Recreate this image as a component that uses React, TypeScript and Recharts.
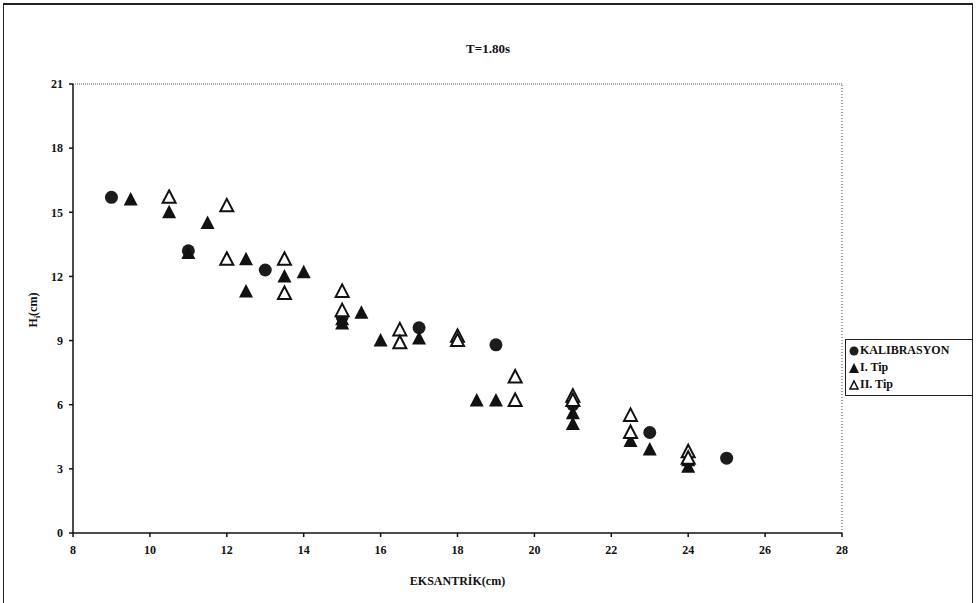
import { ScatterChart, Scatter, XAxis, YAxis, ReferenceLine } from "recharts";

// eccentricity (cm) and wave height (cm) per series
const kalX = [9, 11, 13, 15, 17, 19, 21, 23, 25];
const kalY = [15.7, 13.2, 12.3, 10.1, 9.6, 8.8, 6.0, 4.7, 3.5];

const tip1X = [9.5, 10.5, 11, 11.5, 12.5, 12.5, 13.5, 14, 15, 15, 15.5, 16, 17, 18.5, 19, 21, 21, 22.5, 23, 24, 24];
const tip1Y = [15.6, 15.0, 13.1, 14.5, 12.8, 11.3, 12.0, 12.2, 10.0, 9.8, 10.3, 9.0, 9.1, 6.2, 6.2, 5.6, 5.1, 4.3, 3.9, 3.4, 3.1];

const tip2X = [10.5, 12, 12, 13.5, 13.5, 15, 15, 16.5, 16.5, 18, 18, 19.5, 19.5, 21, 21, 22.5, 22.5, 24, 24];
const tip2Y = [15.7, 15.3, 12.8, 12.8, 11.2, 11.3, 10.4, 9.5, 8.9, 9.2, 9.0, 7.3, 6.2, 6.4, 6.2, 5.5, 4.7, 3.8, 3.5];

const xTicks = [8, 10, 12, 14, 16, 18, 20, 22, 24, 26, 28];
const yTicks = [0, 3, 6, 9, 12, 15, 18, 21];

const zip = (xs: number[], ys: number[]) => xs.map((x, i) => ({ x, y: ys[i] }));

const font = "'Liberation Serif', 'Times New Roman', serif";

const Dot = (props: any) => {
  const { cx, cy } = props;
  return <circle cx={cx} cy={cy} r={6.5} fill="#1c1c1c" />;
};

const FilledTri = (props: any) => {
  const { cx, cy } = props;
  return <path d={`M${cx},${cy - 7.5} L${cx + 7},${cy + 6} L${cx - 7},${cy + 6} Z`} fill="#111" />;
};

const OpenTri = (props: any) => {
  const { cx, cy } = props;
  return (
    <path
      d={`M${cx},${cy - 7} L${cx + 6.5},${cy + 5.5} L${cx - 6.5},${cy + 5.5} Z`}
      fill="#fff"
      stroke="#111"
      strokeWidth={2}
    />
  );
};

const YLabel = () => (
  <text
    x={0}
    y={0}
    transform="translate(37,310) rotate(-90)"
    textAnchor="middle"
    fontFamily={font}
    fontWeight="bold"
    fontSize={12}
    fill="#111"
  >
    H<tspan fontSize={8} dy={3}>i</tspan>
    <tspan dy={-3}>(cm)</tspan>
  </text>
);

const LegendBox = () => {
  const row = { display: "flex", alignItems: "center", height: 17, gap: 1 } as const;
  return (
    <div
      style={{
        position: "absolute",
        left: 845,
        top: 339,
        border: "1.5px solid #222",
        padding: "2px 3px",
        width: 120,
        fontFamily: font,
        fontWeight: "bold",
        fontSize: 12,
        color: "#111",
        background: "#fff",
      }}
    >
      <div style={row}>
        <svg width={10} height={12}>
          <circle cx={5} cy={6} r={4.5} fill="#1c1c1c" />
        </svg>
        <span>KALIBRASYON</span>
      </div>
      <div style={row}>
        <svg width={10} height={12}>
          <path d="M5,1 L10,11 L0,11 Z" fill="#111" />
        </svg>
        <span>I. Tip</span>
      </div>
      <div style={row}>
        <svg width={10} height={12}>
          <path d="M5,2 L9,10 L1,10 Z" fill="#fff" stroke="#111" strokeWidth={1.5} />
        </svg>
        <span>II. Tip</span>
      </div>
    </div>
  );
};

export default function App() {
  const tickStyle = { fontFamily: font, fontWeight: "bold" as const, fontSize: 12, fill: "#111" };
  return (
    <div style={{ position: "absolute", left: 0, top: 0, width: 976, height: 603, background: "#fff" }}>
      <div
        style={{
          position: "absolute",
          left: 3,
          top: 3,
          width: 968,
          height: 610,
          borderLeft: "1.5px solid #222",
          borderTop: "2px solid #222",
          borderRight: "1.5px solid #222",
        }}
      />
      <div
        style={{
          position: "absolute",
          left: 0,
          width: 976,
          top: 41,
          textAlign: "center",
          fontFamily: font,
          fontWeight: "bold",
          fontSize: 13,
          color: "#111",
        }}
      >
        T=1.80s
      </div>
      <ScatterChart width={976} height={603} margin={{ top: 84, right: 134, left: 13, bottom: 30 }}>
        <XAxis
          type="number"
          dataKey="x"
          domain={[8, 28]}
          ticks={xTicks}
          tick={tickStyle}
          tickSize={4}
          tickMargin={8}
          height={40}
          stroke="#111"
          strokeWidth={1.5}
          label={{
            value: "EKSANTRİK(cm)",
            position: "insideBottom",
            offset: -12,
            style: { fontFamily: font, fontWeight: "bold", fontSize: 12, fill: "#111" },
          }}
        />
        <YAxis
          type="number"
          dataKey="y"
          domain={[0, 21]}
          ticks={yTicks}
          tick={tickStyle}
          tickSize={4}
          tickMargin={6}
          width={60}
          stroke="#111"
          strokeWidth={1.5}
          label={<YLabel />}
        />
        <ReferenceLine y={21} stroke="#555" strokeDasharray="1 1" />
        <ReferenceLine x={28} stroke="#555" strokeDasharray="1 2" />
        <Scatter name="KALIBRASYON" data={zip(kalX, kalY)} shape={<Dot />} isAnimationActive={false} />
        <Scatter name="I. Tip" data={zip(tip1X, tip1Y)} shape={<FilledTri />} isAnimationActive={false} />
        <Scatter name="II. Tip" data={zip(tip2X, tip2Y)} shape={<OpenTri />} isAnimationActive={false} />
      </ScatterChart>
      <LegendBox />
    </div>
  );
}
